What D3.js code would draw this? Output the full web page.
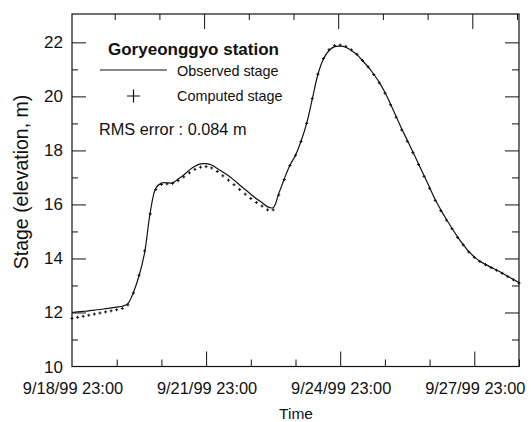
<!DOCTYPE html>
<html lang="en">
  <head>
    <meta charset="UTF-8" />
    <title>Goryeonggyo station stage</title>
    <script src="https://d3js.org/d3.v7.min.js"></script>
    <style>
      body { margin: 0; background: #fff; }
      svg { display: block; font-family: "Liberation Sans", Arial, sans-serif; }
      text { fill: #111; }
    </style>
  </head>
  <body>
    <svg id="chart" width="531" height="422"></svg>
    <script>
      // hours after 9/18/99 23:00, sampled every 3 h
      const hours = d3.range(0, 241, 3);

      const observedStage = [
        12.00, 12.02, 12.04, 12.06, 12.09, 12.11, 12.14, 12.17, 12.20, 12.23,
        12.33, 12.75, 13.36, 14.22, 15.70, 16.60, 16.79, 16.80, 16.80, 16.94,
        17.09, 17.27, 17.41, 17.50, 17.51, 17.46, 17.33, 17.20, 17.06, 16.90,
        16.72, 16.55, 16.38, 16.21, 16.07, 15.91, 15.88, 16.40, 16.95, 17.45,
        17.82, 18.35, 19.00, 19.90, 20.80, 21.38, 21.70, 21.84, 21.86, 21.82,
        21.70, 21.55, 21.32, 21.09, 20.82, 20.52, 20.15, 19.72, 19.26, 18.80,
        18.38, 17.95, 17.51, 17.07, 16.63, 16.18, 15.80, 15.45, 15.12, 14.80,
        14.52, 14.26, 14.06, 13.90, 13.78, 13.67, 13.57, 13.46, 13.34, 13.22,
        13.10
      ];

      const computedStage = [
        11.78, 11.82, 11.86, 11.90, 11.94, 11.98, 12.02, 12.06, 12.10, 12.15,
        12.28, 12.72, 13.38, 14.28, 15.65, 16.55, 16.74, 16.76, 16.78, 16.88,
        17.02, 17.17, 17.30, 17.38, 17.40, 17.35, 17.22, 17.06, 16.90, 16.73,
        16.55, 16.38, 16.22, 16.07, 15.94, 15.80, 15.80, 16.35, 16.92, 17.44,
        17.82, 18.33, 19.00, 19.92, 20.82, 21.40, 21.73, 21.88, 21.90, 21.85,
        21.72, 21.56, 21.33, 21.09, 20.81, 20.50, 20.12, 19.69, 19.23, 18.76,
        18.34, 17.92, 17.48, 17.04, 16.60, 16.15, 15.77, 15.42, 15.10, 14.78,
        14.50, 14.24, 14.04, 13.89, 13.77, 13.66, 13.56, 13.45, 13.33, 13.21,
        13.09
      ];

      const startTime = new Date(1999, 8, 18, 23, 0);
      const endTime = new Date(1999, 8, 28, 23, 0);
      const yTicks = [10, 12, 14, 16, 18, 20, 22];
      const yMinorTicks = [11, 13, 15, 17, 19, 21];

      const plotL = 72, plotR = 519, plotT = 14, plotB = 366.5;

      const svg = d3.select("#chart");
      const toDate = h => d3.timeHour.offset(startTime, h);

      const x = d3.scaleTime().domain([startTime, endTime]).range([plotL, plotR]);
      const y = d3.scaleLinear().domain([10, 23.05]).range([plotB, plotT]);

      // every day at 23:00, labels every third day
      const dayTicks = d3.timeDay.range(d3.timeDay.floor(startTime), endTime)
        .map(d => d3.timeHour.offset(d, 23));
      const majorX = dayTicks.filter((d, i) => i % 3 === 0);
      const minorX = dayTicks.filter((d, i) => i % 3 !== 0);
      const fmt = d3.timeFormat("%-m/%d/%y %H:%M");

      // all ticks inward, on all four sides
      const drawTicks = (axis, ticks, size, pos) => {
        axis.tickValues(ticks).tickSize(size).tickSizeOuter(0).tickFormat("");
        const g = svg.append("g").attr("transform", pos).call(axis);
        g.select(".domain").remove();
        g.selectAll("line").attr("stroke", "#111").attr("stroke-width", 1);
        return g;
      };

      const innerMajorX = majorX.filter(d => d > startTime);
      // bottom
      drawTicks(d3.axisTop(x), minorX, 7, `translate(0,${plotB})`);
      drawTicks(d3.axisTop(x), innerMajorX, 15, `translate(0,${plotB})`);
      // top
      drawTicks(d3.axisBottom(x), minorX, 6, `translate(-2,${plotT})`);
      drawTicks(d3.axisBottom(x), innerMajorX, 15, `translate(-2,${plotT})`);
      // left
      drawTicks(d3.axisRight(y), yMinorTicks, 6, `translate(${plotL},0)`);
      drawTicks(d3.axisRight(y), yTicks.filter(v => v > 10), 14, `translate(${plotL},0)`);
      // right
      drawTicks(d3.axisLeft(y), yMinorTicks, 7, `translate(${plotR},0)`);
      drawTicks(d3.axisLeft(y), yTicks.filter(v => v > 10), 14, `translate(${plotR},0)`);

      // frame
      svg.append("rect")
        .attr("x", plotL).attr("y", plotT)
        .attr("width", plotR - plotL).attr("height", plotB - plotT)
        .attr("fill", "none").attr("stroke", "#111").attr("stroke-width", 1.2);

      // tick labels
      svg.append("g").selectAll("text")
        .data(yTicks).join("text")
        .attr("x", plotL - 9).attr("y", d => y(d) + 6)
        .attr("text-anchor", "end")
        .attr("font-size", 17)
        .text(d => d);

      svg.append("g").selectAll("text")
        .data(majorX).join("text")
        .attr("x", d => x(d) + 1).attr("y", 394)
        .attr("text-anchor", "middle")
        .attr("font-size", 16.4)
        .text(fmt);

      // axis titles
      svg.append("text")
        .attr("x", 296).attr("y", 419)
        .attr("text-anchor", "middle")
        .attr("font-size", 15.5)
        .text("Time");

      svg.append("text")
        .attr("transform", "translate(28,182) rotate(-90)")
        .attr("text-anchor", "middle")
        .attr("font-size", 19.5)
        .text("Stage (elevation, m)");

      // observed line
      const line = d3.line()
        .x(d => x(toDate(d[0])))
        .y(d => y(d[1]))
        .curve(d3.curveCatmullRom.alpha(0.5));

      svg.append("path")
        .datum(hours.map((h, i) => [h, observedStage[i]]))
        .attr("d", line)
        .attr("fill", "none")
        .attr("stroke", "#111")
        .attr("stroke-width", 1.2);

      // computed markers (small crosses)
      svg.append("g").selectAll("path")
        .data(hours.map((h, i) => [h, computedStage[i]]))
        .join("path")
        .attr("transform", d => `translate(${x(toDate(d[0]))},${y(d[1])})`)
        .attr("d", "M-1.5,0H1.5M0,-1.5V1.5")
        .attr("stroke", "#111")
        .attr("stroke-width", 1);

      // legend
      const lg = svg.append("g");
      lg.append("text")
        .attr("x", 108).attr("y", 55)
        .attr("font-size", 17)
        .attr("font-weight", "bold")
        .text("Goryeonggyo station");
      lg.append("line")
        .attr("x1", 100).attr("x2", 167).attr("y1", 70).attr("y2", 70)
        .attr("stroke", "#111").attr("stroke-width", 1);
      lg.append("text")
        .attr("x", 177).attr("y", 76)
        .attr("font-size", 14.4)
        .text("Observed stage");
      lg.append("path")
        .attr("d", "M127,96H140M133.5,89.5V102.5")
        .attr("stroke", "#111").attr("stroke-width", 1.2);
      lg.append("text")
        .attr("x", 177).attr("y", 101)
        .attr("font-size", 14.4)
        .text("Computed stage");
      lg.append("text")
        .attr("x", 99).attr("y", 135)
        .attr("font-size", 16.3)
        .text("RMS error : 0.084 m");
    </script>
  </body>
</html>
